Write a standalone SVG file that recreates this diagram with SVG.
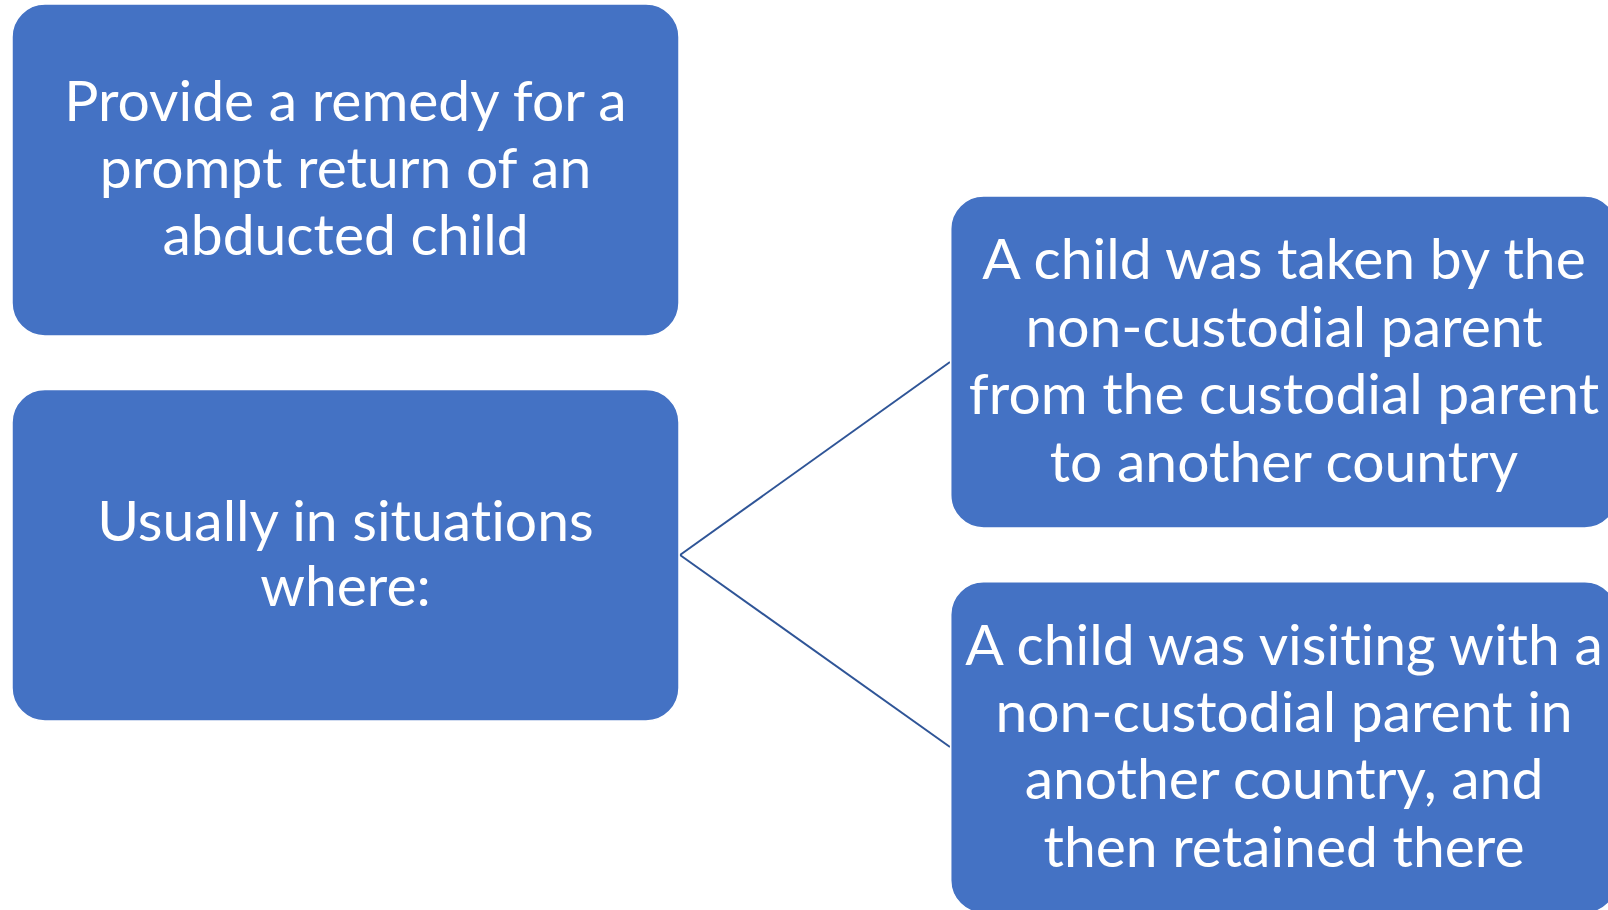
<svg xmlns="http://www.w3.org/2000/svg" width="1608" height="910" viewBox="0 0 1608 910">
<style>
.box{fill:#4472C4;stroke:#ffffff;stroke-width:1.5}
.t{font-family:Lato,"Liberation Sans",sans-serif;font-size:57px;fill:#ffffff;text-anchor:middle;font-variant-ligatures:none;font-feature-settings:"liga" 0}
.c{stroke:#2F5597;stroke-width:2;fill:none}
</style>
<rect width="1608" height="910" fill="#ffffff"/>
<g id="connectors">
<line class="c" x1="680" y1="555" x2="950" y2="362"/>
<line class="c" x1="680" y1="555" x2="950" y2="747"/>
</g>
<g id="node1">
<rect class="box" x="12" y="4" width="667" height="332" rx="33"/>
<text class="t" x="345.5" y="121">Provide a remedy for a</text>
<text class="t" x="345.5" y="188">prompt return of an</text>
<text class="t" x="345.5" y="255">abducted child</text>
</g>
<g id="node2">
<rect class="box" x="12" y="389.5" width="667" height="331.5" rx="33"/>
<text class="t" x="345.5" y="540.5">Usually in situations</text>
<text class="t" x="345.5" y="606">where:</text>
</g>
<g id="node3">
<rect class="box" x="950.7" y="196" width="667" height="332" rx="33"/>
<text class="t" x="1284" y="279">A child was taken by the</text>
<text class="t" x="1284" y="346.5">non-custodial parent</text>
<text class="t" x="1284" y="414">from the custodial parent</text>
<text class="t" x="1284" y="481.5">to another country</text>
</g>
<g id="node4">
<rect class="box" x="950.7" y="581.7" width="667" height="331.5" rx="33"/>
<text class="t" x="1284" y="664.5">A child was visiting with a</text>
<text class="t" x="1284" y="731.5">non-custodial parent in</text>
<text class="t" x="1284" y="799">another country, and</text>
<text class="t" x="1284" y="866.5">then retained there</text>
</g>
</svg>
